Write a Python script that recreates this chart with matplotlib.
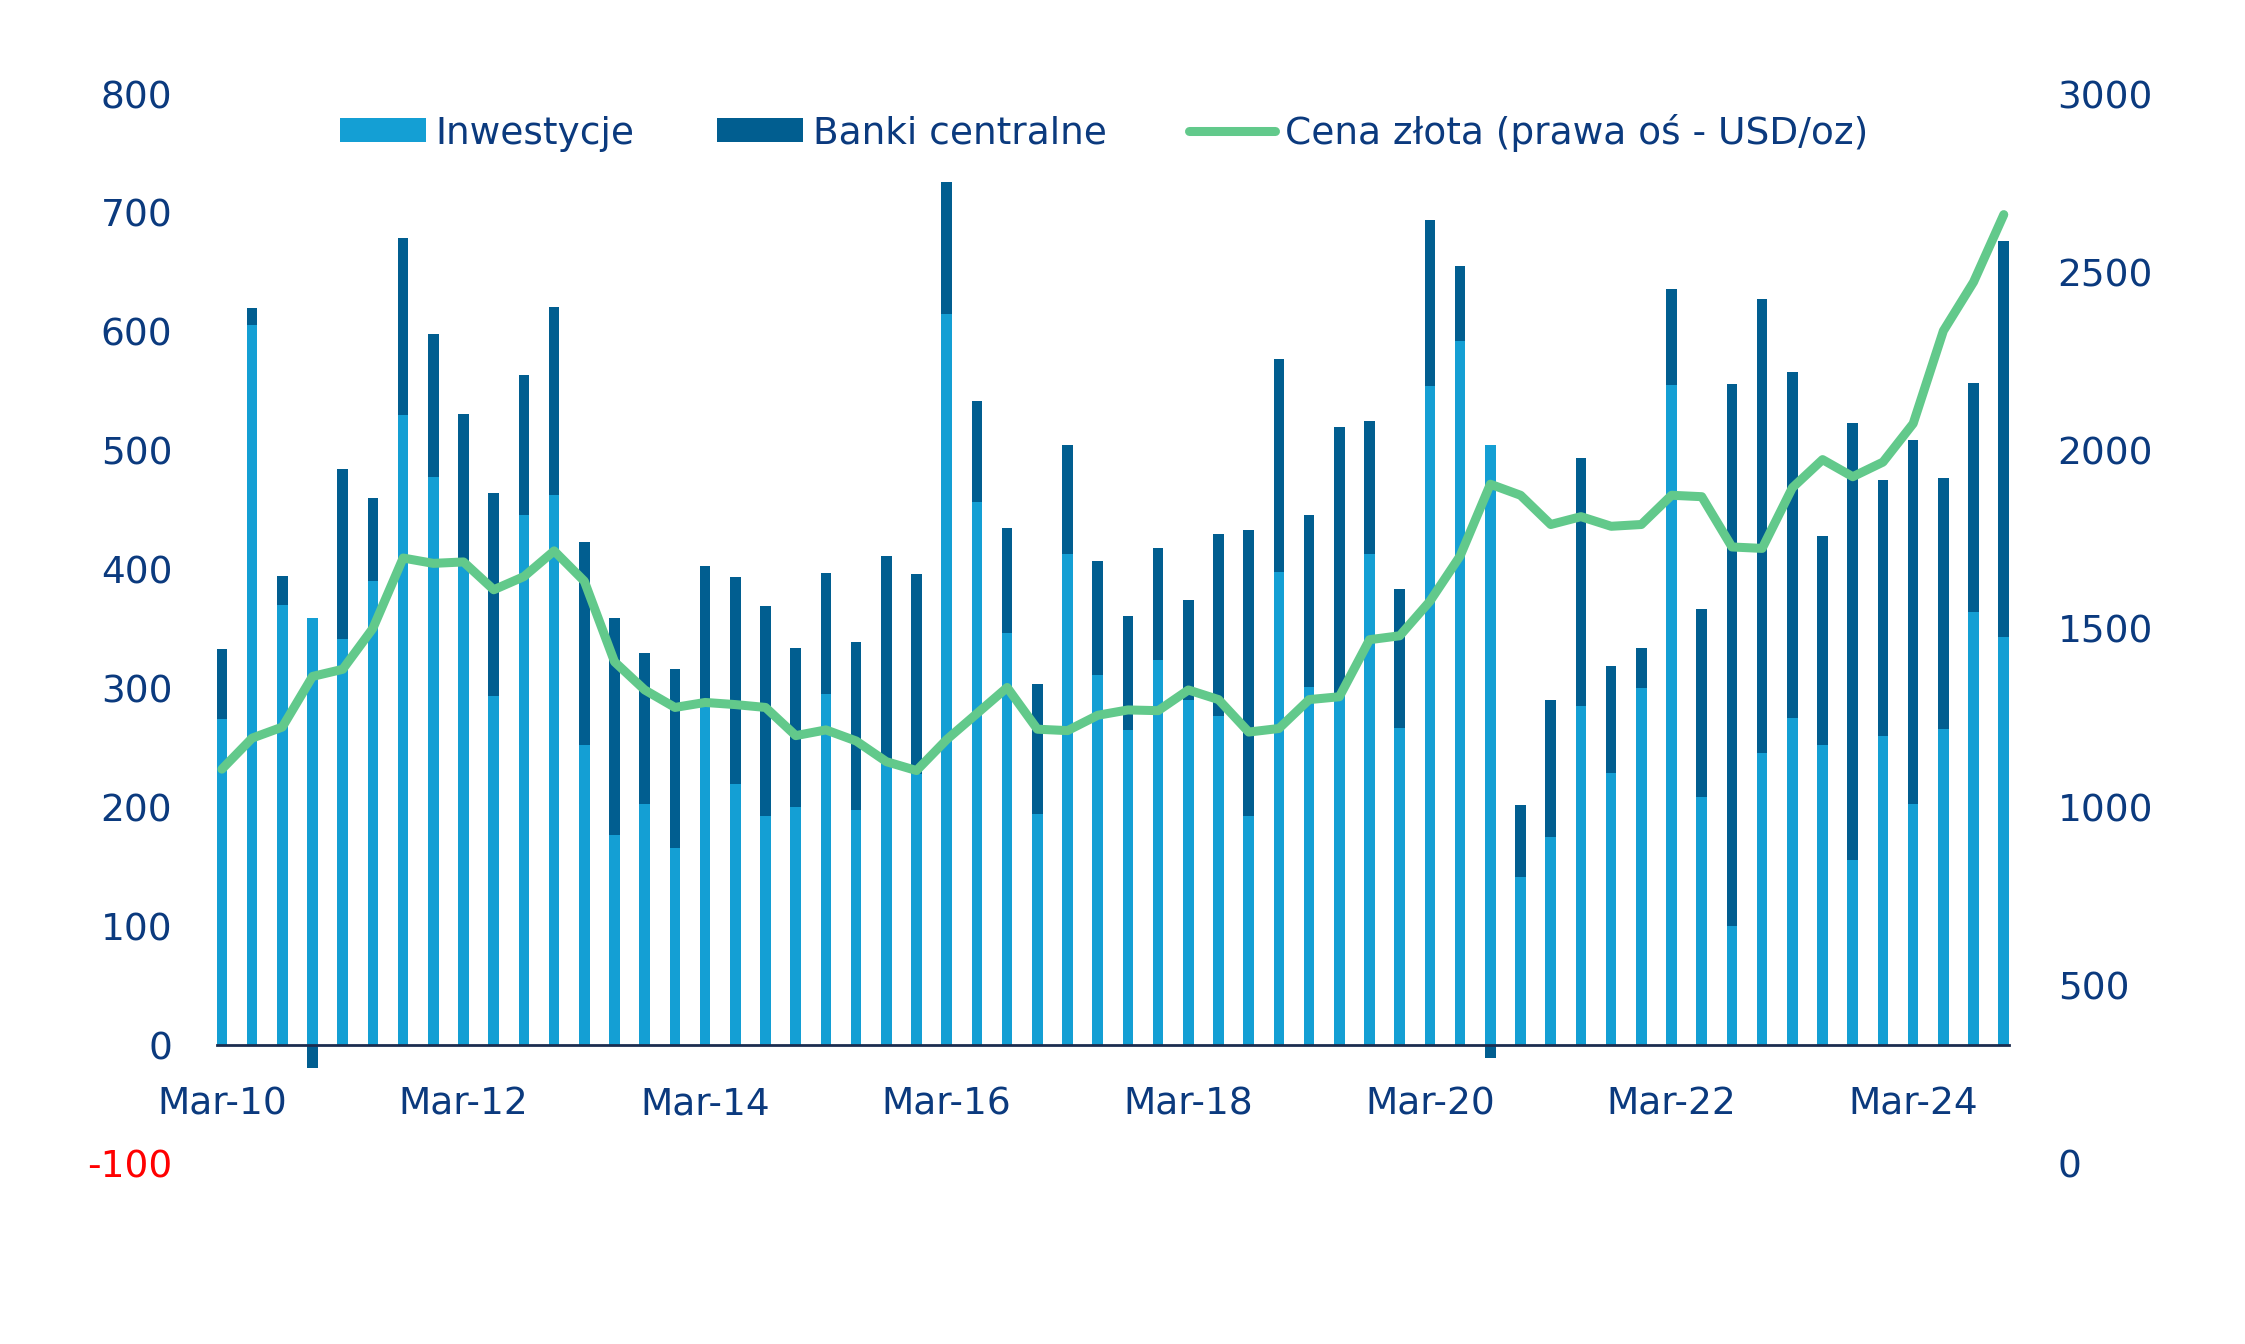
import numpy as np
import matplotlib.pyplot as plt

# quarterly data, Mar-10 .. Dec-24
quarters = [f"{m}-{y:02d}" for y in range(10, 25) for m in ("Mar", "Jun", "Sep", "Dec")]

inwestycje = [274, 606, 370, 359, 342, 390, 530, 478, 407, 294,
              446, 463, 252, 177, 203, 166, 291, 220, 193, 200,
              295, 198, 240, 228, 615, 457, 347, 194, 413, 311,
              265, 324, 290, 277, 193, 398, 301, 294, 413, 267,
              554, 592, 505, 141, 175, 285, 229, 300, 555, 209,
              100, 246, 275, 252, 156, 260, 203, 266, 364, 343]

banki = [59, 14, 25, -19, 143, 70, 149, 120, 124, 170,
         118, 158, 171, 182, 127, 150, 112, 174, 176, 134,
         102, 141, 171, 168, 111, 85, 88, 110, 92, 96,
         96, 94, 84, 153, 240, 179, 145, 226, 112, 117,
         140, 63, -11, 61, 115, 209, 90, 34, 81, 158,
         456, 382, 291, 176, 367, 215, 306, 211, 193, 333]

cena = [1107, 1194, 1225, 1367, 1387, 1502, 1699, 1684, 1688, 1610,
        1647, 1719, 1634, 1408, 1329, 1280, 1294, 1288, 1280, 1201,
        1217, 1186, 1128, 1103, 1190, 1263, 1336, 1219, 1215, 1258,
        1273, 1271, 1329, 1302, 1211, 1221, 1302, 1310, 1470, 1481,
        1578, 1705, 1906, 1875, 1793, 1815, 1788, 1793, 1875, 1871,
        1730, 1726, 1896, 1975, 1927, 1968, 2076, 2336, 2473, 2662]

plt.rcParams['font.family'] = ['DejaVu Sans']
plt.rcParams['axes.unicode_minus'] = False

navy = '#0b3a7e'
c_inv = '#149fd4'
c_cb = '#015e90'
c_gold = '#62c98b'
fs = 27

x = np.arange(len(quarters))
inv = np.array(inwestycje)
cb = np.array(banki)
w = 0.35

fig = plt.figure(figsize=(22.45, 13.44), dpi=100)
ax = fig.add_axes([0.0965, 0.134, 0.7984, 0.796])

ax.bar(x, inv, width=w, color=c_inv, label='Inwestycje', zorder=2)
ax.bar(x, cb, width=w, bottom=np.where(cb >= 0, inv, 0), color=c_cb,
       label='Banki centralne', zorder=2)

ax.set_xlim(-w / 2, x[-1] + w / 2)
ax.set_ylim(-100, 800)
ax.set_yticks(np.arange(-100, 801, 100))
ax.set_xticks(x[::8])
ax.set_xticklabels(quarters[::8])

for s in ['top', 'right', 'left']:
    ax.spines[s].set_visible(False)
ax.spines['bottom'].set_position(('data', 0))
ax.spines['bottom'].set_color('#1c2d4f')
ax.spines['bottom'].set_linewidth(2)
ax.tick_params(axis='x', length=0, pad=30, labelsize=fs, labelcolor=navy)
ax.tick_params(axis='y', length=0, pad=32, labelsize=fs, labelcolor=navy)
ax.get_yticklabels()[0].set_color('#ff0000')

ax2 = ax.twinx()
ax2.plot(x, cena, color=c_gold, linewidth=6.5, solid_capstyle='round',
         label='Cena złota (prawa oś - USD/oz)')
ax2.set_ylim(0, 3000)
ax2.set_yticks(np.arange(0, 3001, 500))
for s in ax2.spines.values():
    s.set_visible(False)
ax2.tick_params(axis='y', length=0, pad=35, labelsize=fs, labelcolor=navy)

h1, l1 = ax.get_legend_handles_labels()
h2, l2 = ax2.get_legend_handles_labels()
leg = ax2.legend(h1 + h2, l1 + l2, loc='center', bbox_to_anchor=(0.495, 0.964),
                 ncol=3, frameon=False, fontsize=fs, handlelength=2.3,
                 handleheight=0.6, handletextpad=0.25, columnspacing=2.2)
for t in leg.get_texts():
    t.set_color(navy)

fig.savefig('out.png', dpi=100, facecolor='white')
